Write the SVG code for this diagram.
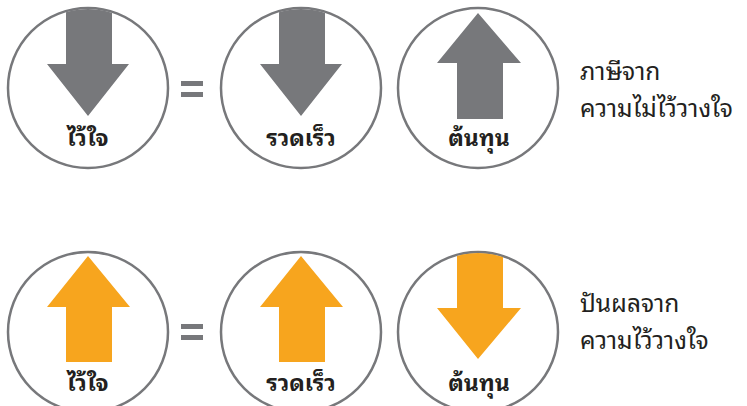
<svg xmlns="http://www.w3.org/2000/svg" width="747" height="406" viewBox="0 0 747 406">
<defs>
<style>
.ring{fill:#fff;stroke:#77787b;stroke-width:2.5}
.g{fill:#77787b}
.o{fill:#f7a51e}
.eq{fill:#77787b}
.lbl{font-family:"Noto Sans Thai Looped","Noto Serif Thai","Noto Sans Thai","Noto Sans","DejaVu Sans",sans-serif;font-size:23px;font-weight:bold;fill:#231f20;text-anchor:middle}
.txt{font-family:"Noto Sans Thai Looped","Noto Serif Thai","Noto Sans Thai","Noto Sans","DejaVu Sans",sans-serif;font-size:24.5px;fill:#231f20}
</style>
<clipPath id="c1"><circle cx="88" cy="88" r="79"/></clipPath>
<clipPath id="c2"><circle cx="301" cy="88" r="79"/></clipPath>
<clipPath id="c6"><circle cx="478" cy="332" r="79"/></clipPath>
</defs>
<rect width="747" height="406" fill="#fff"/>
<g id="node-trust-top">
<circle class="ring" cx="88" cy="88" r="80"/>
<polygon class="g" clip-path="url(#c1)" points="66,0 112,0 112,64 129,64 88,116 47,64 66,64"/>
<text class="lbl" x="88" y="146">ไว้ใจ</text>
</g>
<g id="node-speed-top">
<circle class="ring" cx="301" cy="88" r="80"/>
<polygon class="g" clip-path="url(#c2)" points="279,0 325,0 325,64 342,64 301,116 260,64 279,64"/>
<text class="lbl" x="301" y="146">รวดเร็ว</text>
</g>
<g id="node-cost-top">
<circle class="ring" cx="478" cy="88" r="80"/>
<polygon class="g" points="478,13 521,63 503,63 503,119 457,119 457,63 437,63"/>
<text class="lbl" x="479" y="146">ต้นทุน</text>
</g>
<g id="eq-top">
<rect class="eq" x="181" y="81" width="22" height="5"/>
<rect class="eq" x="181" y="92" width="22" height="5"/>
</g>
<g id="note-top">
<text class="txt" x="580" y="80">ภาษีจาก</text>
<text class="txt" x="580" y="117">ความไม่ไว้วางใจ</text>
</g>
<g id="node-trust-bottom">
<circle class="ring" cx="88" cy="332" r="80"/>
<polygon class="o" points="88,256 130,307 112,307 112,362 66,362 66,307 47,307"/>
<text class="lbl" x="88" y="391">ไว้ใจ</text>
</g>
<g id="node-speed-bottom">
<circle class="ring" cx="301" cy="332" r="80"/>
<polygon class="o" points="301,256 343,307 325,307 325,362 279,362 279,307 260,307"/>
<text class="lbl" x="301" y="391">รวดเร็ว</text>
</g>
<g id="node-cost-bottom">
<circle class="ring" cx="478" cy="332" r="80"/>
<polygon class="o" clip-path="url(#c6)" points="457,240 503,240 503,308 521,308 478,359 437,308 457,308"/>
<text class="lbl" x="479" y="391">ต้นทุน</text>
</g>
<g id="eq-bottom">
<rect class="eq" x="181" y="324" width="22" height="5"/>
<rect class="eq" x="181" y="335" width="22" height="5"/>
</g>
<g id="note-bottom">
<text class="txt" x="580" y="312">ปันผลจาก</text>
<text class="txt" x="580" y="349">ความไว้วางใจ</text>
</g>
<g id="connectors"/>
</svg>
